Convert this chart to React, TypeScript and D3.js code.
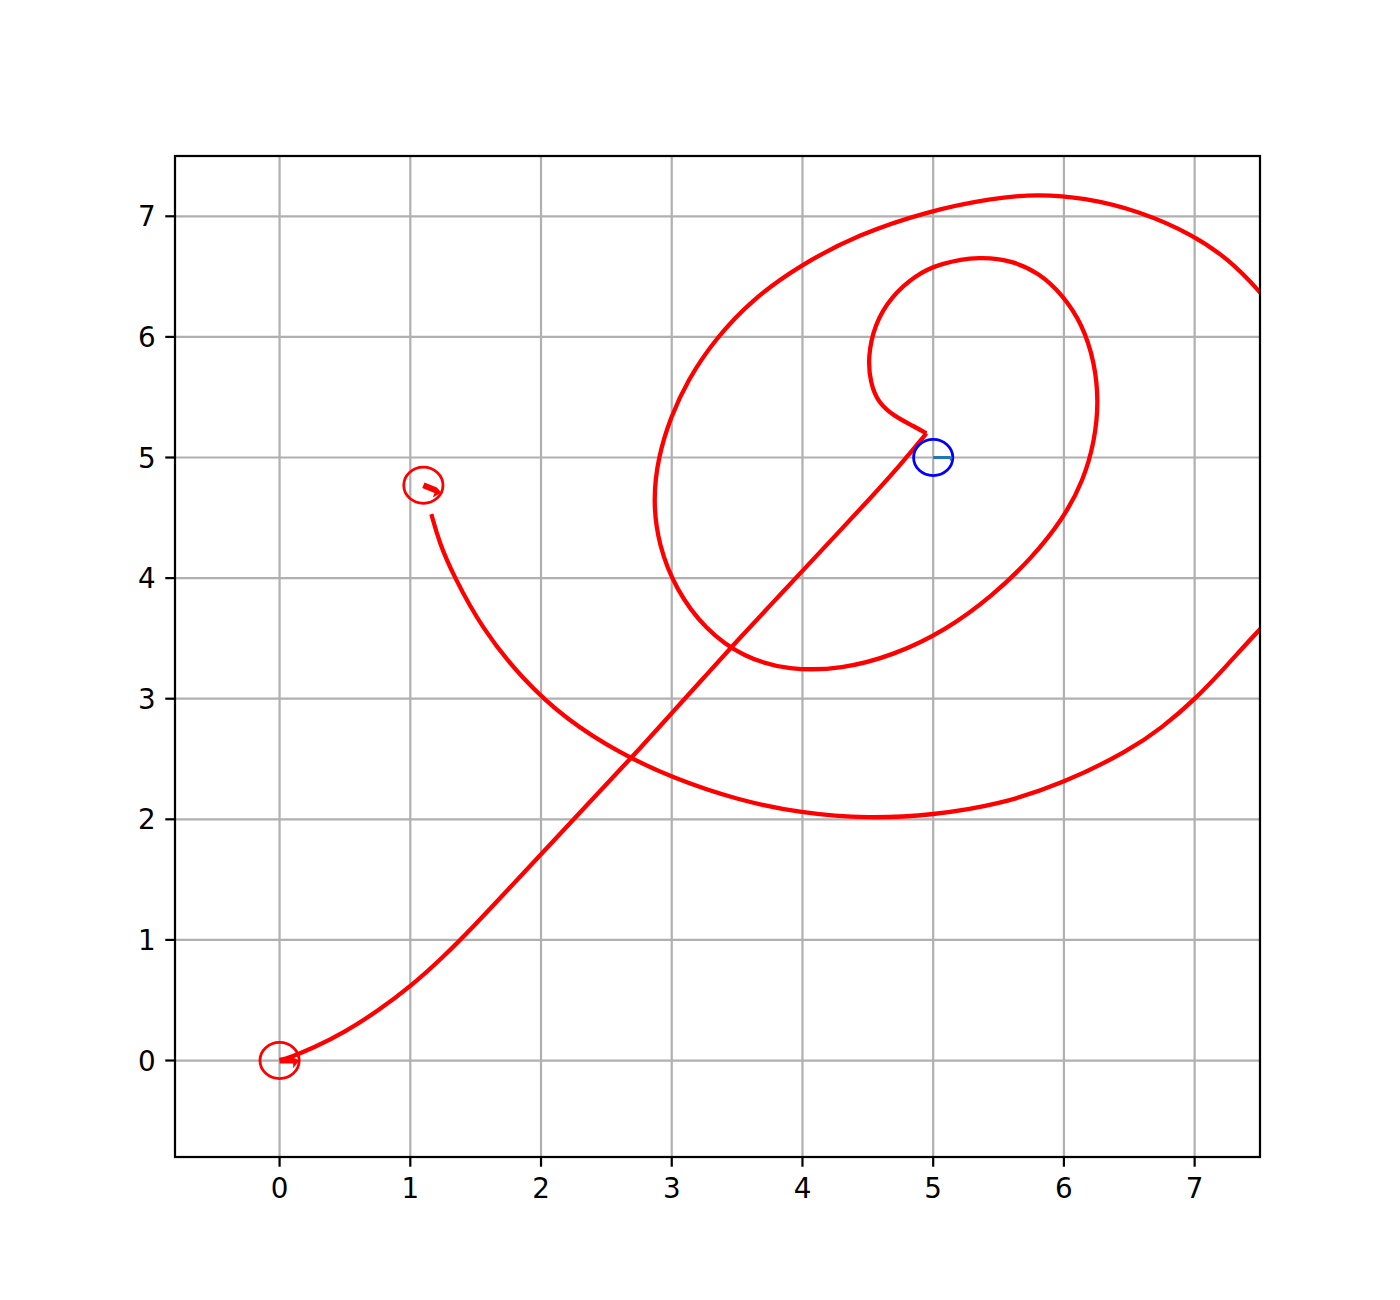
import React from "react";
import * as d3 from "d3";

const X_DOMAIN: [number, number] = [-0.8, 7.5];
const Y_DOMAIN: [number, number] = [-0.8, 7.5];
const X_TICKS = [0, 1, 2, 3, 4, 5, 6, 7];
const Y_TICKS = [0, 1, 2, 3, 4, 5, 6, 7];

// approach from start to the tip near the goal
const approachPath: [number, number][] = [
  [0, 0], [0.1, 0.035], [0.25, 0.1], [0.5, 0.235], [0.75, 0.41], [1.0, 0.612],
  [1.25, 0.855], [1.5, 1.13], [1.75, 1.42], [2.0, 1.71], [2.25, 2.0],
  [2.5, 2.29], [2.75, 2.58], [3.0, 2.88], [3.25, 3.18], [3.5, 3.48],
  [3.75, 3.77], [4.0, 4.06], [4.25, 4.35], [4.5, 4.64], [4.75, 4.94],
  [4.948, 5.2],
];

// spiral leaving the tip and ending near the current pose
const spiralPath: [number, number][] = [
  [4.948, 5.2], [4.85, 5.26], [4.706, 5.34], [4.581, 5.45], [4.519, 5.62], [4.5, 5.83],
  [4.55, 6.1], [4.675, 6.33], [4.862, 6.51], [5.05, 6.61], [5.36, 6.67],
  [5.611, 6.63], [5.81, 6.53], [5.986, 6.355], [6.141, 6.106], [6.235, 5.79],
  [6.266, 5.46], [6.235, 5.139], [6.15, 4.81], [5.993, 4.49], [5.75, 4.16],
  [5.45, 3.85], [5.1, 3.57], [4.7, 3.36], [4.3, 3.245], [3.9, 3.235],
  [3.55, 3.34], [3.25, 3.58], [3.03, 3.91], [2.9, 4.27], [2.856, 4.642],
  [2.895, 5.0], [2.99, 5.33], [3.12, 5.64], [3.33, 5.98], [3.614, 6.31],
  [3.988, 6.6], [4.43, 6.85], [4.95, 7.04], [5.45, 7.15], [5.8, 7.185],
  [6.15, 7.155], [6.578, 7.045], [6.999, 6.84], [7.25, 6.65], [7.484, 6.4],
  [7.7, 6.1], [7.87, 5.7], [7.97, 5.2], [8.0, 4.7], [7.93, 4.2], [7.75, 3.85],
  [7.485, 3.564], [7.243, 3.27], [7.0, 2.99], [6.75, 2.76], [6.5, 2.57],
  [6.0, 2.3], [5.5, 2.12], [5.0, 2.035], [4.5, 2.005], [3.991, 2.05],
  [3.5, 2.16], [3.0, 2.345], [2.6, 2.55], [2.2, 2.82], [1.85, 3.17],
  [1.55, 3.58], [1.33, 4.02], [1.22, 4.3], [1.161, 4.531],
];

const ROBOT_RADIUS = 0.15;
const robotX = [0, 5, 1.1];
const robotY = [0, 5, 4.77];
const robotHeading = [0, 0, -0.42];
const robotColor = ["#ff0000", "#0000ff", "#ff0000"];
const arrowColor = ["#ff0000", "#1f77b4", "#ff0000"];
const arrowWidth = [6, 3, 6];

const W = 1400;
const H = 1300;
const left = 175;
const right = 1260;
const top = 156;
const bottom = 1157;

export default function App() {
  const x = d3.scaleLinear().domain(X_DOMAIN).range([left, right]);
  const y = d3.scaleLinear().domain(Y_DOMAIN).range([bottom, top]);
  const line = d3
    .line<[number, number]>()
    .x((d) => x(d[0]))
    .y((d) => y(d[1]))
    .curve(d3.curveBasis);

  const lw = 2.22;
  const fs = 27.78;
  const rx = x(ROBOT_RADIUS) - x(0);
  const ry = y(0) - y(ROBOT_RADIUS);

  return (
    <svg
      width={W}
      height={H}
      style={{ position: "absolute", left: 0, top: 0, background: "#fff" }}
      fontFamily="DejaVu Sans"
    >
      <defs>
        <clipPath id="axclip">
          <rect x={left} y={top} width={right - left} height={bottom - top} />
        </clipPath>
      </defs>
      <rect x={0} y={0} width={W} height={H} fill="#fff" />
      <g stroke="#b0b0b0" strokeWidth={lw}>
        {X_TICKS.map((t) => (
          <line key={"gx" + t} x1={x(t)} x2={x(t)} y1={top} y2={bottom} />
        ))}
        {Y_TICKS.map((t) => (
          <line key={"gy" + t} y1={y(t)} y2={y(t)} x1={left} x2={right} />
        ))}
      </g>
      <g clipPath="url(#axclip)" fill="none">
        <path d={line(approachPath) || ""} stroke="#ff0000" strokeWidth={4.3} strokeLinejoin="round" />
        <path d={line(spiralPath) || ""} stroke="#ff0000" strokeWidth={4.3} strokeLinejoin="round" />
        {robotX.map((rxv, i) => {
          const cx = x(rxv);
          const cy = y(robotY[i]);
          const h = robotHeading[i];
          const ex = x(rxv + ROBOT_RADIUS * Math.cos(h));
          const ey = y(robotY[i] + ROBOT_RADIUS * Math.sin(h));
          const len = Math.hypot(ex - cx, ey - cy);
          const dx = (ex - cx) / len;
          const dy = (ey - cy) / len;
          const nx = -dy;
          const ny = dx;
          const headL = arrowWidth[i] * 1.0;
          const headW = arrowWidth[i] * 1.3;
          const bx = ex - dx * headL;
          const by = ey - dy * headL;
          const half = arrowWidth[i] / 2;
          const pts = [
            [cx - nx * half, cy - ny * half],
            [bx - nx * half, by - ny * half],
            [ex, ey],
            [bx + nx * headW, by + ny * headW],
            [bx + nx * half, by + ny * half],
            [cx + nx * half, cy + ny * half],
          ];
          return (
            <g key={"r" + i}>
              <ellipse cx={cx} cy={cy} rx={rx} ry={ry} stroke={robotColor[i]} strokeWidth={2.8} fill="none" />
              <polygon points={pts.map((p) => p.join(",")).join(" ")} fill={arrowColor[i]} stroke="none" />
            </g>
          );
        })}
      </g>
      <rect x={left} y={top} width={right - left} height={bottom - top} fill="none" stroke="#000" strokeWidth={lw} />
      <g stroke="#000" strokeWidth={lw}>
        {X_TICKS.map((t) => (
          <line key={"tx" + t} x1={x(t)} x2={x(t)} y1={bottom} y2={bottom + 9.72} />
        ))}
        {Y_TICKS.map((t) => (
          <line key={"ty" + t} y1={y(t)} y2={y(t)} x1={left} x2={left - 9.72} />
        ))}
      </g>
      <g fontSize={fs} fill="#000">
        {X_TICKS.map((t) => (
          <text key={"lx" + t} x={x(t)} y={bottom + 40.5} textAnchor="middle">
            {t}
          </text>
        ))}
        {Y_TICKS.map((t) => (
          <text key={"ly" + t} x={left - 19.44} y={y(t) + 10.1} textAnchor="end">
            {t}
          </text>
        ))}
      </g>
    </svg>
  );
}
